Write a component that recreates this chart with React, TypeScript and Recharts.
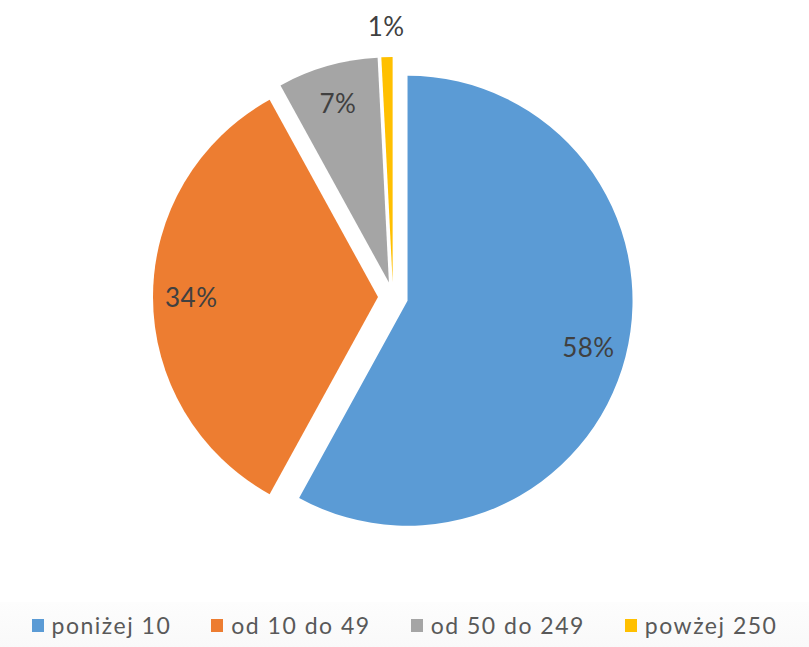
import React from 'react';
import { PieChart, Pie, Cell, Legend } from 'recharts';

const categories = ['poniżej 10', 'od 10 do 49', 'od 50 do 249', 'powżej 250'];
const values = [58.0, 34.0, 7.2, 0.8];
const colors = ['#5B9BD5', '#ED7D31', '#A5A5A5', '#FFC000'];
const labelOutside = [false, false, false, true];

const data = categories.map((name, i) => ({ name, value: values[i] }));

const W = 809;
const H = 647;
const CX = 393;
const CY = 297;
const R = 225;
const EXPLODE = 15;
const RADIAN = Math.PI / 180;
const FONT = 'Lato, "Open Sans", sans-serif';

const total = values.reduce((a, b) => a + b, 0);
const midFractions = values.map((v, i) => {
  const before = values.slice(0, i).reduce((a, b) => a + b, 0);
  return (before + v / 2) / total;
});

const makeLabel = (visibleIndex: number) => (props: any) => {
  const { cx, cy, midAngle, outerRadius, index, value } = props;
  if (index !== visibleIndex) return null;
  const rr = labelOutside[index] ? outerRadius + 31 : outerRadius * 0.83;
  const x = cx + rr * Math.cos(-midAngle * RADIAN);
  const y = cy + rr * Math.sin(-midAngle * RADIAN);
  return (
    <text
      x={x}
      y={y}
      fill="#404040"
      fontSize={26}
      fontFamily={FONT}
      letterSpacing={0.5}
      textAnchor="middle"
      dominantBaseline="central"
    >
      {`${Math.round(value)}%`}
    </text>
  );
};

const renderLegend = () => (
  <div
    style={{
      display: 'flex',
      justifyContent: 'center',
      alignItems: 'center',
      gap: 40,
      fontFamily: FONT,
      fontSize: 23,
      letterSpacing: 1.5,
      color: '#595959',
      height: 46,
      background: 'linear-gradient(to bottom, #fdfdfd, #f9f9f9)',
    }}
  >
    {categories.map((c, i) => (
      <div key={c} style={{ display: 'flex', alignItems: 'center' }}>
        <span
          style={{
            display: 'inline-block',
            width: 12,
            height: 13,
            background: colors[i],
            marginRight: 8,
          }}
        />
        <span>{c}</span>
      </div>
    ))}
  </div>
);

export default function App() {
  return (
    <div style={{ position: 'absolute', left: 0, top: 0, width: W, height: H, background: '#fff' }}>
      <PieChart width={W} height={H} margin={{ top: 0, right: 0, bottom: 0, left: 0 }}>
        {categories.map((_, k) => {
          const ang = midFractions[k] * 360 * RADIAN;
          const cx = CX + EXPLODE * Math.sin(ang);
          const cy = CY - EXPLODE * Math.cos(ang);
          return (
            <Pie
              key={k}
              data={data}
              dataKey="value"
              nameKey="name"
              cx={cx}
              cy={cy}
              outerRadius={R}
              startAngle={90}
              endAngle={-270}
              stroke="none"
              isAnimationActive={false}
              labelLine={false}
              label={makeLabel(k)}
              legendType="none"
            >
              {data.map((d, i) => (
                <Cell key={d.name} fill={i === k ? colors[i] : 'none'} stroke="none" />
              ))}
            </Pie>
          );
        })}
        <Legend
          content={renderLegend}
          wrapperStyle={{ left: 0, top: 602, width: W, height: 46 }}
        />
      </PieChart>
    </div>
  );
}
